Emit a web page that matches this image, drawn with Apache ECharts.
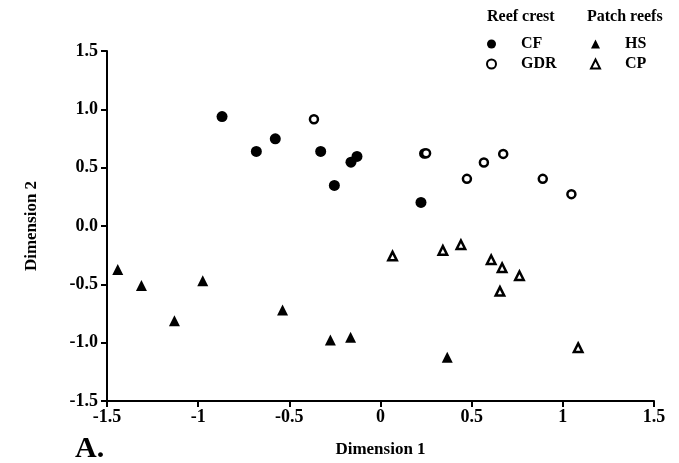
<!DOCTYPE html>
<html>
<head>
<meta charset="utf-8">
<script src="https://cdn.jsdelivr.net/npm/echarts@6/dist/echarts.min.js"></script>
<style>html,body{margin:0;padding:0;background:#fff}#c{width:679px;height:463px}</style>
</head>
<body>
<div id="c"></div>
<script>
// Data (Dimension 1, Dimension 2)
var cfData = [[-0.869,0.938],[-0.681,0.639],[-0.577,0.747],[-0.328,0.639],[-0.253,0.348],[-0.162,0.547],[-0.129,0.596],[0.222,0.202]];
var gdrData = [[-0.365,0.915],[0.240,0.622],[0.250,0.624],[0.474,0.404],[0.567,0.545],[0.673,0.618],[0.890,0.404],[1.047,0.273]];
var hsData = [[-1.441,-0.372],[-1.311,-0.509],[-1.130,-0.812],[-0.975,-0.469],[-0.537,-0.720],[-0.275,-0.977],[-0.164,-0.954],[0.366,-1.125]];
var cpData = [[0.066,-0.258],[0.342,-0.209],[0.441,-0.161],[0.607,-0.289],[0.667,-0.358],[0.762,-0.426],[0.655,-0.560],[1.084,-1.043]];
var xTickValues = [-1.5,-1,-0.5,0,0.5,1,1.5];
var xTickLabels = ['-1.5','-1','-0.5','0','0.5','1','1.5'];
var yTickValues = [-1.5,-1,-0.5,0,0.5,1,1.5];
var yTickLabels = ['-1.5','-1.0','-0.5','0.0','0.5','1.0','1.5'];

var FONT = '"Liberation Serif", "Times New Roman", serif';
function lab(vals, labels){
  return function(v){
    for (var i=0;i<vals.length;i++){ if (Math.abs(vals[i]-v)<1e-6) return labels[i]; }
    return '';
  };
}
var axisCommon = {
  axisLine:{show:true, onZero:false, lineStyle:{color:'#000', width:2}},
  axisTick:{show:true, inside:false, length:6, lineStyle:{color:'#000', width:2}},
  splitLine:{show:false},
  nameTextStyle:{fontFamily:FONT, fontWeight:'bold', fontSize:17, color:'#000'}
};
var chart = echarts.init(document.getElementById('c'), null, {renderer:'canvas'});
var legendText = {fontFamily:FONT, fontWeight:'bold', fontSize:16, color:'#000', padding:[0,0,0,20], lineHeight:16};
chart.setOption({
  animation:false,
  backgroundColor:'#fff',
  grid:{left:107, right:25, top:51, bottom:62, containLabel:false},
  xAxis: Object.assign({}, axisCommon, {
    type:'value', min:-1.5, max:1.5, interval:0.5,
    name:'Dimension 1', nameLocation:'middle', nameGap:40,
    axisLabel:{formatter:lab(xTickValues,xTickLabels), fontFamily:FONT, fontWeight:'bold', fontSize:18, color:'#000', margin:7}
  }),
  yAxis: Object.assign({}, axisCommon, {
    type:'value', min:-1.5, max:1.5, interval:0.5,
    name:'Dimension 2', nameLocation:'middle', nameGap:67,
    axisLabel:{formatter:lab(yTickValues,yTickLabels), fontFamily:FONT, fontWeight:'bold', fontSize:18, color:'#000', margin:9}
  }),
  legend:[
    {data:['CF','GDR'], orient:'vertical', left:481, top:31, itemWidth:9, itemHeight:9, itemGap:4, selectedMode:false, textStyle:legendText},
    {data:['HS','CP'], orient:'vertical', left:585, top:31, itemWidth:9, itemHeight:9, itemGap:4, selectedMode:false, textStyle:legendText}
  ],
  graphic:[
    {type:'text', left:487, top:9, style:{text:'Reef crest', font:'bold 16px '+FONT, fill:'#000'}},
    {type:'text', left:587, top:9, style:{text:'Patch reefs', font:'bold 16px '+FONT, fill:'#000'}},
    {type:'text', left:75, top:434, style:{text:'A.', font:'bold 30px '+FONT, fill:'#000'}}
  ],
  series:[
    {name:'CF', type:'scatter', data:cfData, symbol:'circle', symbolSize:11, itemStyle:{color:'#000', opacity:1}},
    {name:'GDR', type:'scatter', data:gdrData, symbol:'circle', symbolSize:8, itemStyle:{color:'#fff', borderColor:'#000', borderWidth:2.5, opacity:1}},
    {name:'HS', type:'scatter', data:hsData, symbol:'triangle', symbolSize:11, itemStyle:{color:'#000', opacity:1}},
    {name:'CP', type:'scatter', data:cpData, symbol:'triangle', symbolSize:8.5, itemStyle:{color:'#fff', borderColor:'#000', borderWidth:2.5, opacity:1}}
  ]
});
</script>
</body>
</html>
